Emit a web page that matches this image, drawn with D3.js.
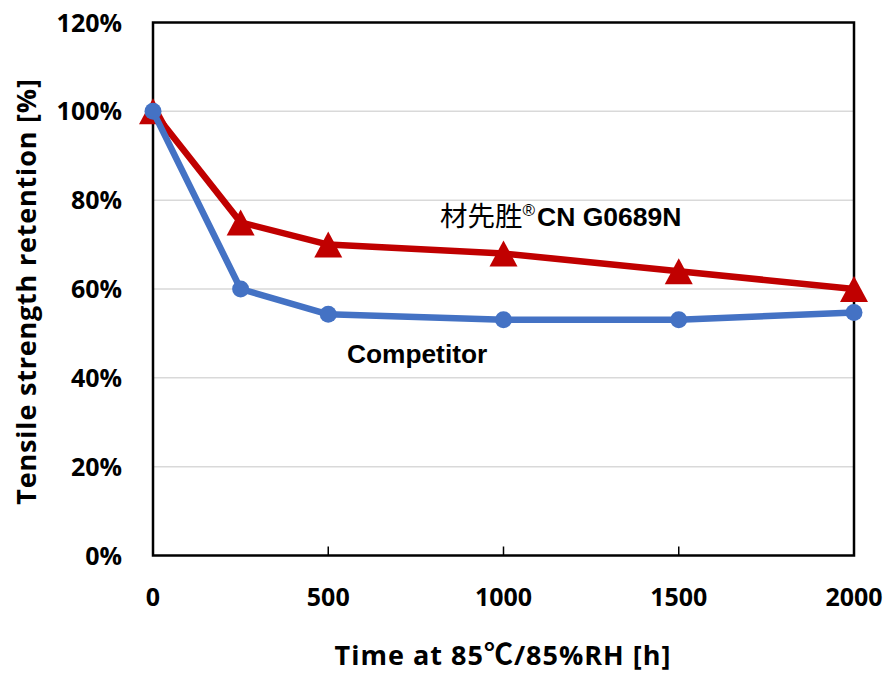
<!DOCTYPE html>
<html>
<head>
<meta charset="utf-8">
<script src="https://cdn.jsdelivr.net/npm/d3@7"></script>
<style>
  html, body { margin: 0; padding: 0; background: #fff; }
  svg { display: block; }
</style>
</head>
<body>
<svg id="chart" width="889" height="674"></svg>
<script>
// ---- data ----
const hours = [0, 250, 500, 1000, 1500, 2000];
const productValues = [100, 75, 70, 68, 64, 60];      // 材先胜® CN G0689N
const competitorValues = [100, 60, 54.3, 53.1, 53.1, 54.7];
const xTicks = [0, 500, 1000, 1500, 2000];
const yTicks = [0, 20, 40, 60, 80, 100, 120];
const productLabel = "材先胜";
const productCode = "CN G0689N";
const competitorLabel = "Competitor";
const xTitleParts = ["Time at 85", "℃", "/85%RH [h]"];
const yTitle = "Tensile strength retention [%]";

// ---- layout ----
const plotLeft = 153, plotRight = 854, plotTop = 22.5, plotBottom = 555.5;
const svg = d3.select("#chart");
const x = d3.scaleLinear().domain([0, 2000]).range([plotLeft, plotRight]);
const y = d3.scaleLinear().domain([0, 120]).range([plotBottom, plotTop]);

const tickFont = "'Open Sans', sans-serif";
const annFont = "'Liberation Sans', Arial, sans-serif";
const cjkFont = "'Noto Sans CJK SC', sans-serif";

// gridlines
svg.append("g").selectAll("line").data(yTicks.filter(d => d > 0 && d < 120)).join("line")
  .attr("x1", plotLeft).attr("x2", plotRight)
  .attr("y1", d => y(d)).attr("y2", d => y(d))
  .attr("stroke", "#d9d9d9").attr("stroke-width", 1.5);

// x axis inner ticks
svg.append("g").selectAll("line").data(xTicks.filter(d => d > 0 && d < 2000)).join("line")
  .attr("x1", d => x(d)).attr("x2", d => x(d))
  .attr("y1", plotBottom).attr("y2", plotBottom - 9)
  .attr("stroke", "#000").attr("stroke-width", 1.5);

// plot border
svg.append("rect")
  .attr("x", plotLeft).attr("y", plotTop)
  .attr("width", plotRight - plotLeft).attr("height", plotBottom - plotTop)
  .attr("fill", "none").attr("stroke", "#000").attr("stroke-width", 2.5);

// y tick labels
svg.append("g").selectAll("text").data(yTicks).join("text")
  .attr("x", 122).attr("y", d => y(d) + 9)
  .attr("text-anchor", "end")
  .attr("font-family", tickFont).attr("font-weight", "bold").attr("font-size", 25)
  .text(d => d + "%");

// x tick labels
svg.append("g").selectAll("text").data(xTicks).join("text")
  .attr("x", d => x(d)).attr("y", 606)
  .attr("text-anchor", "middle")
  .attr("font-family", tickFont).attr("font-weight", "bold").attr("font-size", 25)
  .text(d => d);

// axis titles
const xt = svg.append("text")
  .attr("x", 503).attr("y", 665)
  .attr("text-anchor", "middle")
  .attr("font-family", tickFont).attr("font-weight", "bold").attr("font-size", 27)
  .attr("letter-spacing", 1.0);
xt.selectAll("tspan").data(xTitleParts).join("tspan")
  .attr("font-family", (d, i) => i === 1 ? cjkFont : tickFont)
  .attr("font-weight", "bold")
  .attr("font-size", (d, i) => i === 1 ? 29 : 27)
  .text(d => d);

svg.append("text")
  .attr("transform", `translate(36, ${(81 + 502) / 2}) rotate(-90)`)
  .attr("text-anchor", "middle")
  .attr("font-family", tickFont).attr("font-weight", "bold").attr("font-size", 27)
  .attr("letter-spacing", 0.8)
  .text(yTitle);

// lines
const line = d3.line().x((d, i) => x(hours[i])).y(d => y(d));

svg.append("path").datum(productValues)
  .attr("d", line).attr("fill", "none")
  .attr("stroke", "#c00000").attr("stroke-width", 6.5).attr("stroke-linejoin", "round");

// triangle marker (28 wide, 26 tall), centred on the point
const triType = {
  draw(ctx) {
    ctx.moveTo(0, -13);
    ctx.lineTo(14, 13);
    ctx.lineTo(-14, 13);
    ctx.closePath();
  }
};
const tri = d3.symbol().type(triType);
svg.append("g").selectAll("path").data(productValues).join("path")
  .attr("transform", (d, i) => `translate(${x(hours[i])},${y(d)})`)
  .attr("d", tri).attr("fill", "#c00000");

svg.append("path").datum(competitorValues)
  .attr("d", line).attr("fill", "none")
  .attr("stroke", "#4472c4").attr("stroke-width", 6.5).attr("stroke-linejoin", "round");

svg.append("g").selectAll("circle").data(competitorValues).join("circle")
  .attr("cx", (d, i) => x(hours[i])).attr("cy", d => y(d))
  .attr("r", 8.5).attr("fill", "#4472c4");

// annotations
const ann = svg.append("text")
  .attr("x", 440).attr("y", 226)
  .attr("fill", "#000");
ann.append("tspan").attr("font-family", cjkFont)
  .attr("font-weight", "normal").attr("font-size", 27.5).text(productLabel);
ann.append("tspan").attr("font-family", annFont).attr("font-size", 17)
  .attr("dy", -10).text("®");
ann.append("tspan").attr("font-family", annFont).attr("font-weight", "bold").attr("font-size", 26.5)
  .attr("dy", 10).attr("dx", 2).text(productCode);

svg.append("text")
  .attr("x", 347).attr("y", 363)
  .attr("font-family", annFont).attr("font-weight", "bold").attr("font-size", 26.3)
  .text(competitorLabel);
</script>
</body>
</html>
